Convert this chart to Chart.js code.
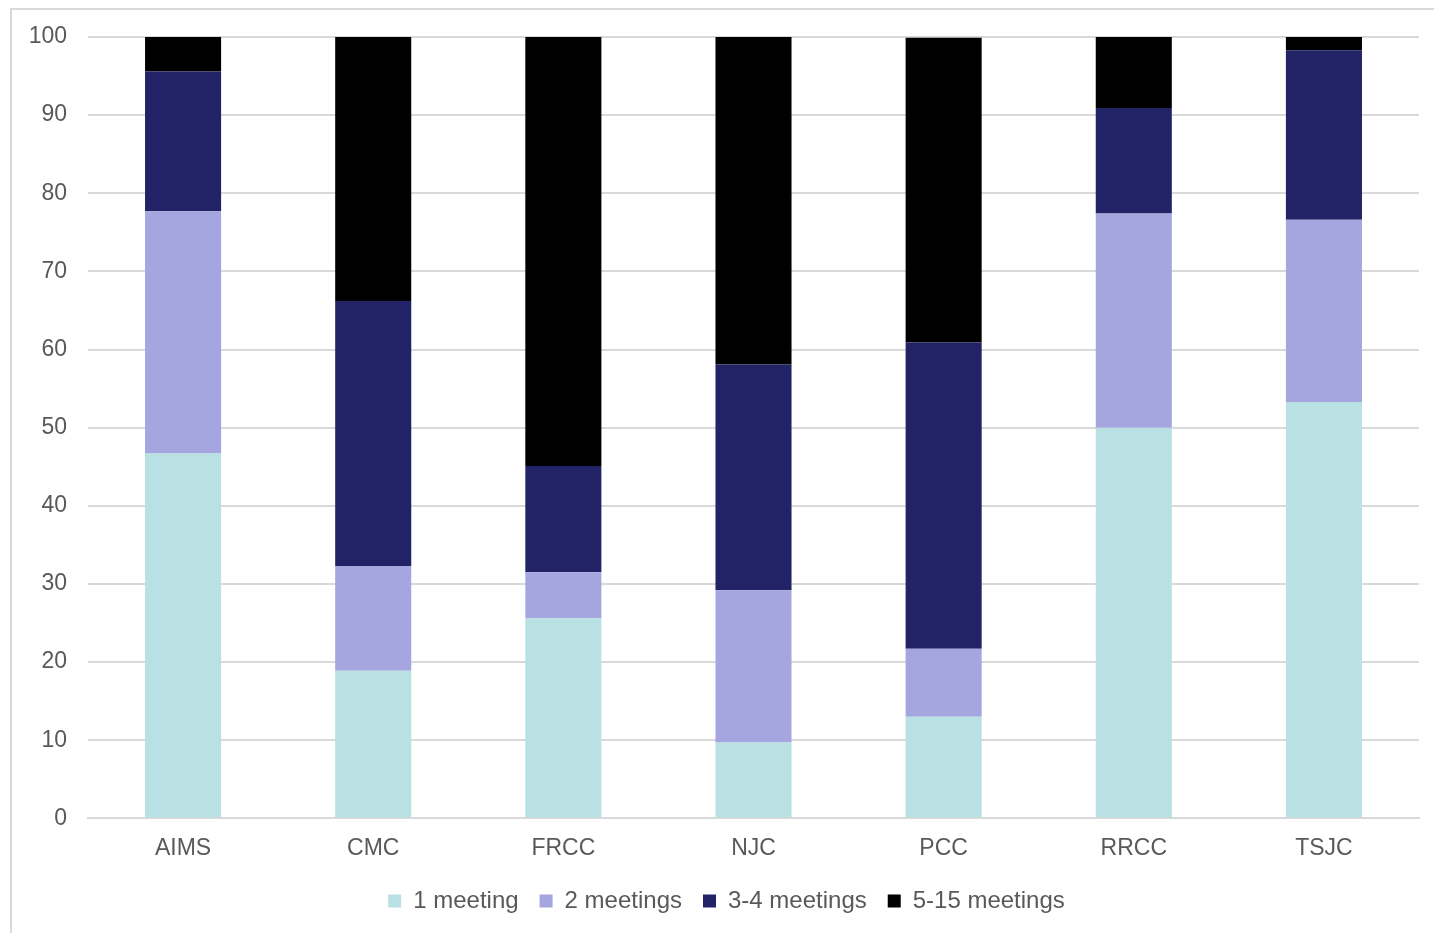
<!DOCTYPE html>
<html>
<head>
<meta charset="utf-8">
<script src="https://cdn.jsdelivr.net/npm/chart.js@4.4.1/dist/chart.umd.min.js"></script>
<style>
  html, body { margin: 0; padding: 0; background: #ffffff; }
  #wrap { position: relative; width: 1434px; height: 933px; overflow: hidden; }
  #frame { position: absolute; left: 10px; top: 8px; width: 1440px; height: 940px;
           border: 2px solid #d9d9d9; box-sizing: border-box; }
  #chart { position: absolute; left: 0; top: 0; }
</style>
</head>
<body>
<div id="wrap">
  <div id="frame"></div>
  <canvas id="chart" width="1434" height="933"></canvas>
</div>
<script>
// Share of attendees by number of meetings attended, per college (%)
const colleges = ["AIMS", "CMC", "FRCC", "NJC", "PCC", "RRCC", "TSJC"];
const oneMeeting    = [46.7, 18.9, 25.6,  9.7, 13.0, 50.0, 53.3];
const twoMeetings   = [31.0, 13.4,  5.9, 19.5,  8.7, 27.4, 23.3];
const threeToFour   = [17.9, 33.9, 13.6, 28.9, 39.2, 13.5, 21.7];
const fiveToFifteen = [ 4.4, 33.8, 54.9, 41.9, 39.0,  9.1,  1.7];
const yTicks = [0, 10, 20, 30, 40, 50, 60, 70, 80, 90, 100];

const seriesNames  = ["1 meeting", "2 meetings", "3-4 meetings", "5-15 meetings"];
const seriesValues = [oneMeeting, twoMeetings, threeToFour, fiveToFifteen];
const seriesColors = ["#b9e0e2", "#a5a5e0", "#222266", "#000000"];

const textColor = "#595959";
const gridColor = "#d9d9d9";
const fontFamily = "'Liberation Sans', Arial, sans-serif";

Chart.defaults.font.family = fontFamily;
Chart.defaults.color = textColor;

// Nudge the legend row a little to the right of centre
const legendOffset = {
  id: "legendOffset",
  afterLayout(chart) {
    const lg = chart.legend;
    if (lg) { lg.left += 17; lg.right += 17; }
  }
};

new Chart(document.getElementById("chart"), {
  type: "bar",
  data: {
    labels: colleges,
    datasets: seriesNames.map((name, i) => ({
      label: name,
      data: seriesValues[i],
      backgroundColor: seriesColors[i],
      borderWidth: 0,
      categoryPercentage: 1.0,
      barPercentage: 0.4
    }))
  },
  plugins: [legendOffset],
  options: {
    responsive: false,
    animation: false,
    layout: { padding: { top: 37, right: 15, left: 0, bottom: 10 } },
    plugins: {
      tooltip: { enabled: false },
      legend: {
        position: "bottom",
        labels: {
          boxWidth: 13,
          boxHeight: 13,
          padding: 21,
          color: textColor,
          font: { size: 24, family: fontFamily }
        }
      }
    },
    scales: {
      x: {
        stacked: true,
        afterFit: (scale) => { scale.height -= 10; },
        grid: { display: false, drawTicks: false },
        border: { display: true, color: gridColor, width: 2 },
        ticks: { padding: 16, color: textColor, font: { size: 23 } }
      },
      y: {
        stacked: true,
        min: 0,
        max: 100,
        afterBuildTicks: (scale) => { scale.ticks = yTicks.map(v => ({ value: v })); },
        afterFit: (scale) => { scale.width = 88; },
        grid: { color: gridColor, lineWidth: 2, drawTicks: false },
        border: { display: false },
        ticks: { padding: 21, color: textColor, font: { size: 23 } }
      }
    }
  }
});
</script>
</body>
</html>
